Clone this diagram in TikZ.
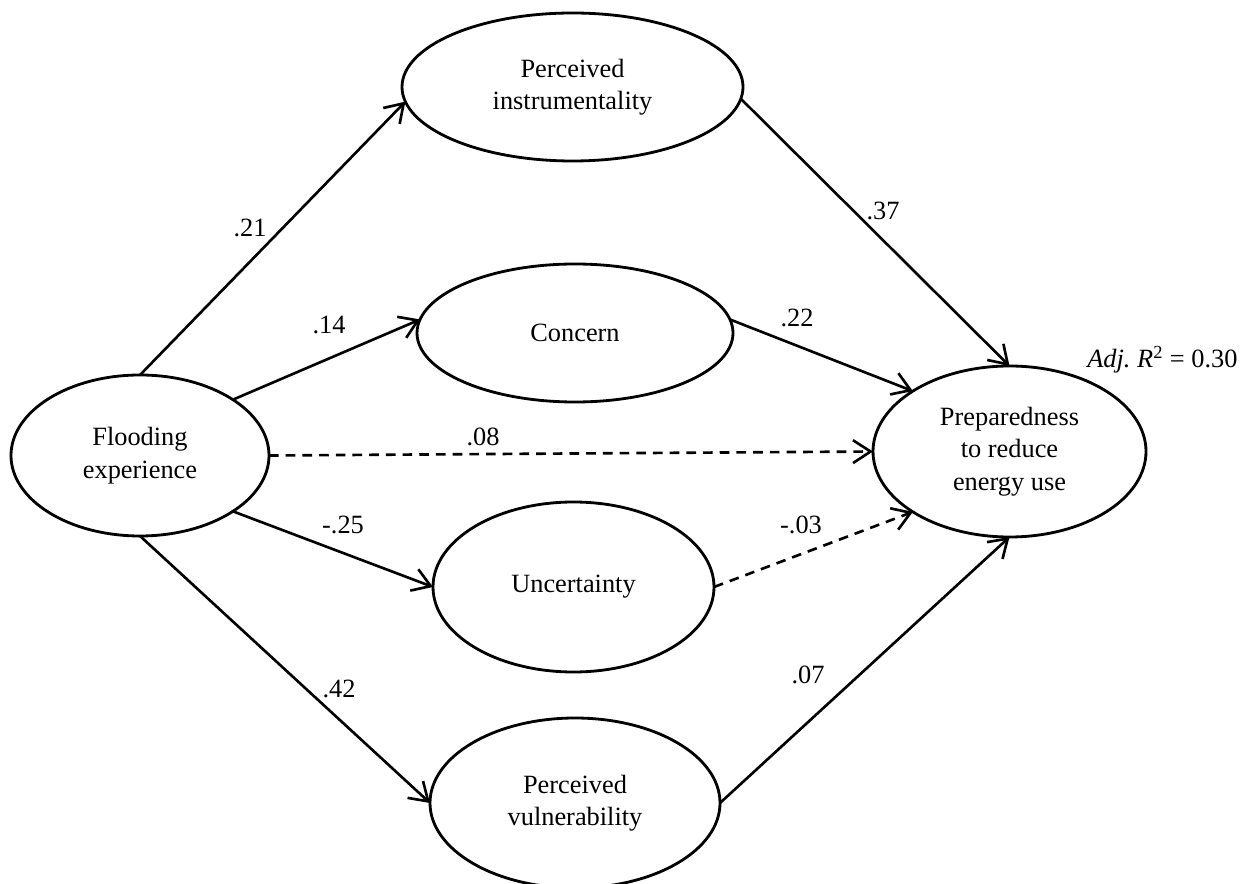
\documentclass[tikz,border=0pt]{standalone}
\usepackage{fontspec}
\setmainfont{Liberation Serif}
\usetikzlibrary{shapes.geometric,arrows.meta}

\begin{document}
\begin{tikzpicture}[
   var/.style={draw, ellipse, line width=1.6pt, inner sep=0pt, outer sep=0pt, align=center,
               font=\fontsize{15}{18.5}\selectfont},
   eff/.style={line width=1.5pt, -{Straight Barb[length=10pt,width=13pt,line width=1.5pt]}},
   ns/.style={eff, dash pattern=on 5.5pt off 4pt},
   coef/.style={font=\fontsize{15}{18.5}\selectfont}]
\useasboundingbox (0,0) rectangle (25,17.66);

% latent variables

\node [var, minimum width=5.16cm, minimum height=3.22cm] (flood) at (2.80,8.55) {Flooding\\experience};
\node [var, minimum width=6.82cm, minimum height=2.96cm] (instr) at (11.45,15.92) {Perceived\\instrumentality};
\node [var, minimum width=6.32cm, minimum height=2.76cm] (concern) at (11.50,11.00) {Concern};
\node [var, minimum width=5.62cm, minimum height=3.40cm] (uncert) at (11.47,5.92) {Uncertainty};
\node [var, minimum width=5.80cm, minimum height=3.40cm] (vuln) at (11.50,1.60) {Perceived\\vulnerability};
\node [var, minimum width=5.46cm, minimum height=3.42cm] (prep) at (20.19,8.63) {Preparedness\\to reduce\\energy use};

  % paths out of flooding experience
\draw [eff] (flood.north) -- (instr.185);
\draw [eff] (flood.31.7) -- (concern.175.4);
\draw [ns] (flood.east) -- (prep.west);
\draw [eff] (flood.-31.7) -- (uncert.west);
\draw [eff] (flood.south) -- (vuln.west);

  % paths into preparedness
\draw [eff] (instr.-4.4) -- (prep.north);
\draw [eff] (concern.5.4) -- (prep.148.3);
\draw [ns] (uncert.east) -- (prep.212.2);
\draw [eff] (vuln.east) -- (prep.south);

% coefficients

\node [coef] (c21) at (5.00,13.10) {.21};
\node [coef] (c14) at (6.58,11.16) {.14};
\node [coef] (c08) at (9.66,8.92) {.08};
\node [coef] (c25) at (6.86,7.16) {-.25};
\node [coef] (c42) at (6.78,3.88) {.42};
\node [coef] (c37) at (17.66,13.44) {.37};
\node [coef] (c22) at (15.94,11.30) {.22};
\node [coef] (c03) at (16.02,7.16) {-.03};
\node [coef] (c07) at (16.16,4.16) {.07};

\node [coef, anchor=base west, inner sep=0pt] (rsq) at (21.74,10.30) {{\itshape Adj.\ R}\textsuperscript{2} = 0.30};

\end{tikzpicture}
\end{document}
